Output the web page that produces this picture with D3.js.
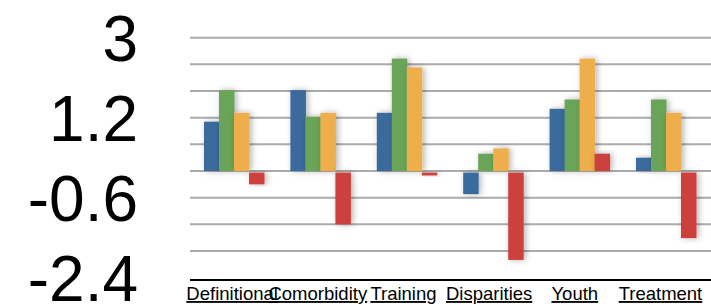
<!DOCTYPE html>
<html>
<head>
<meta charset="utf-8">
<script src="https://cdn.jsdelivr.net/npm/d3@7"></script>
<style>
  body { margin: 0; background: #fff; }
  svg { display: block; font-family: "Liberation Sans", Arial, sans-serif; }
</style>
</head>
<body>
<svg id="chart" width="711" height="305"></svg>
<script>
const categories = ["Definitional", "Comorbidity", "Training", "Disparities", "Youth", "Treatment"];
const seriesNames = ["s1", "s2", "s3", "s4"];
const s1 = [1.11, 1.82, 1.31, -0.52, 1.40, 0.30];
const s2 = [1.82, 1.22, 2.53, 0.39, 1.61, 1.61];
const s3 = [1.31, 1.31, 2.33, 0.51, 2.53, 1.31];
const s4 = [-0.30, -1.20, -0.10, -2.00, 0.39, -1.51];
const yTicks = [3, 1.2, -0.6, -2.4];
const colors = ["#3b6b9d", "#6ba459", "#edae4b", "#cc403d"];

const series = [s1, s2, s3, s4];
const svg = d3.select("#chart");

const x = d3.scaleBand().domain(categories).range([190.8, 709.2]);
// labels sit a touch left of the bar groups in the original
const xLabel = d3.scaleBand().domain(categories).range([189.3, 703.3]);
const y = d3.scaleLinear().domain([-2.4, 3]).range([277.7, 37.7]);

const defs = svg.append("defs");
defs.append("filter").attr("id", "shadow")
  .attr("x", "-50%").attr("y", "-20%").attr("width", "200%").attr("height", "140%")
  .append("feDropShadow")
  .attr("dx", 2).attr("dy", 0).attr("stdDeviation", 3)
  .attr("flood-color", "#000").attr("flood-opacity", 0.3);

// grid
const gridVals = d3.range(-1.8, 3.01, 0.6);
svg.append("g").selectAll("line").data(gridVals).join("line")
  .attr("x1", 190).attr("x2", 711)
  .attr("y1", d => y(d)).attr("y2", d => y(d))
  .attr("stroke", "#ababab").attr("stroke-width", 2);

// axis baseline
svg.append("line")
  .attr("x1", 190).attr("x2", 711)
  .attr("y1", y(-2.4) + 2.3).attr("y2", y(-2.4) + 2.3)
  .attr("stroke", "#000").attr("stroke-width", 2);

// bars
const xs = d3.scaleBand().domain(seriesNames).range([13.2, 73.2]);
const groups = svg.append("g").selectAll("g").data(categories).join("g")
  .attr("transform", d => `translate(${x(d)},0)`);
groups.selectAll("rect")
  .data((c, i) => series.map((s, k) => ({ k, v: s[i] })))
  .join("rect")
  .attr("x", d => xs(seriesNames[d.k]))
  .attr("width", xs.bandwidth() + 0.5)
  .attr("y", d => d.v >= 0 ? y(d.v) : y(0) + 1.5)
  .attr("height", d => d.v >= 0 ? y(0) - y(d.v) : y(d.v) - y(0) - 1.5)
  .attr("fill", d => colors[d.k])
  .attr("filter", "url(#shadow)");

// y tick labels
svg.append("g").selectAll("text").data(yTicks).join("text")
  .attr("x", 138).attr("y", d => y(d) + 23.5)
  .attr("text-anchor", "end")
  .attr("font-size", 64)
  .attr("fill", "#000")
  .text(d => d);

// category labels
svg.append("g").selectAll("text").data(categories).join("text")
  .attr("x", d => xLabel(d) + xLabel.bandwidth() / 2)
  .attr("y", 300)
  .attr("text-anchor", "middle")
  .attr("font-size", 18.5)
  .attr("text-decoration", "underline")
  .attr("fill", "#000")
  .text(d => d);
</script>
</body>
</html>
